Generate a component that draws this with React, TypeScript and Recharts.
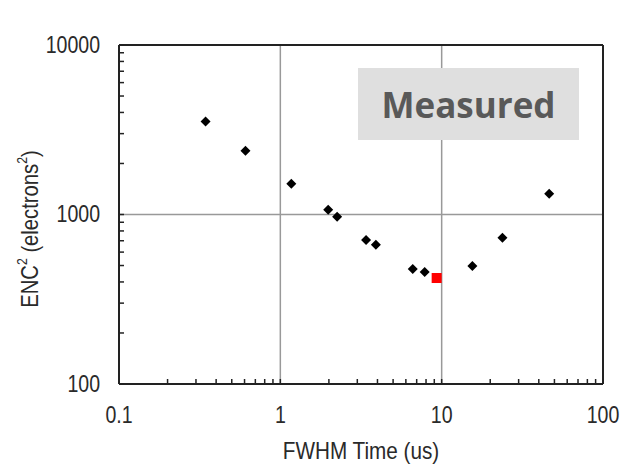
import React from 'react';
import { ScatterChart, Scatter, XAxis, YAxis, ReferenceLine, Label } from 'recharts';

// FWHM time (us) and ENC^2 (electrons^2) for the measured points
const timeUs = [0.344, 0.608, 1.17, 1.98, 2.25, 3.4, 3.91, 6.62, 7.85, 15.5, 23.8, 46.4];
const enc2 = [3540, 2380, 1520, 1066, 969, 708, 662, 477, 458, 497, 728, 1326];
// highlighted (optimum) point
const optTime = [9.31];
const optEnc2 = [422];

const xMajor = [0.1, 1, 10, 100];
const xTicks = [0.1, 0.2, 0.3, 0.4, 0.5, 0.6, 0.7, 0.8, 0.9, 1, 2, 3, 4, 5, 6, 7, 8, 9, 10, 20, 30, 40, 50, 60, 70, 80, 90, 100];
const yMajor = [100, 1000, 10000];
const yTicks = [100, 200, 300, 400, 500, 600, 700, 800, 900, 1000, 2000, 3000, 4000, 5000, 6000, 7000, 8000, 9000, 10000];

const mainData = timeUs.map((x, i) => ({ x, y: enc2[i] }));
const optData = optTime.map((x, i) => ({ x, y: optEnc2[i] }));

const TEXT = '#2a2a2a';
const FONT = '"Liberation Sans", Arial, sans-serif';
const TICK = 5;

const XTick = (props: any) => {
  const { x, y, payload } = props;
  const v = payload.value;
  if (!xMajor.includes(v)) return <g />;
  return (
    <text
      transform={`translate(${x},${y + TICK + 31}) scale(0.85,1)`}
      textAnchor="middle"
      dominantBaseline="central"
      fontSize={23}
      fontFamily={FONT}
      fill={TEXT}
    >
      {String(v)}
    </text>
  );
};

const YTick = (props: any) => {
  const { x, y, payload } = props;
  const v = payload.value;
  if (!yMajor.includes(v)) return <g />;
  return (
    <text
      transform={`translate(${x - TICK - 19},${y}) scale(0.85,1)`}
      textAnchor="end"
      dominantBaseline="central"
      fontSize={23}
      fontFamily={FONT}
      fill={TEXT}
    >
      {String(v)}
    </text>
  );
};

const Diamond = (props: any) => {
  const { cx, cy } = props;
  const r = 5;
  return <polygon points={`${cx},${cy - r} ${cx + r},${cy} ${cx},${cy + r} ${cx - r},${cy}`} fill="#000" />;
};

const RedSquare = (props: any) => {
  const { cx, cy } = props;
  return <rect x={cx - 5} y={cy - 5} width={10} height={10} fill="#ff0000" />;
};

const XTitle = (props: any) => {
  const vb = props.viewBox || { x: 119, y: 384, width: 484, height: 30 };
  return (
    <text
      transform={`translate(${vb.x + vb.width / 2},${vb.y + 67}) scale(0.9,1)`}
      textAnchor="middle"
      dominantBaseline="central"
      fontSize={23}
      fontFamily={FONT}
      fill={TEXT}
    >
      FWHM Time (us)
    </text>
  );
};

const YTitle = () => {
  return (
    <text
      transform={`translate(30,229) rotate(-90) scale(0.88,1)`}
      textAnchor="middle"
      dominantBaseline="central"
      fontSize={23}
      fontFamily={FONT}
      fill={TEXT}
    >
      ENC<tspan dy={-8} fontSize={14}>2</tspan>
      <tspan dy={8}> (electrons</tspan>
      <tspan dy={-8} fontSize={14}>2</tspan>
      <tspan dy={8}>)</tspan>
    </text>
  );
};

export default function App() {
  return (
    <div style={{ position: 'absolute', left: 0, top: 0, width: 621, height: 467, background: '#fff' }}>
      <ScatterChart width={621} height={467} margin={{ top: 45, right: 18, left: 59, bottom: 53 }}>
        <XAxis
          dataKey="x"
          type="number"
          scale="log"
          domain={[0.1, 100]}
          allowDataOverflow
          ticks={xTicks}
          interval={0}
          tickSize={-TICK}
          tickMargin={0}
          tickLine={{ stroke: '#222', strokeWidth: 1.5 }}
          tick={<XTick />}
          height={30}
          axisLine={{ stroke: '#222', strokeWidth: 2 }}
        >
          <Label content={<XTitle />} />
        </XAxis>
        <YAxis
          dataKey="y"
          type="number"
          scale="log"
          domain={[100, 10000]}
          allowDataOverflow
          ticks={yTicks}
          interval={0}
          tickSize={-TICK}
          tickMargin={0}
          tickLine={{ stroke: '#222', strokeWidth: 1.5 }}
          tick={<YTick />}
          width={60}
          axisLine={{ stroke: '#222', strokeWidth: 2 }}
        >
          <Label content={<YTitle />} />
        </YAxis>
        <ReferenceLine x={1} stroke="#999" strokeWidth={1.5} />
        <ReferenceLine x={10} stroke="#999" strokeWidth={1.5} />
        <ReferenceLine y={1000} stroke="#999" strokeWidth={1.5} />
        <ReferenceLine y={10000} stroke="#222" strokeWidth={2} />
        <ReferenceLine x={100} stroke="#222" strokeWidth={2} />
        <Scatter data={mainData} shape={<Diamond />} isAnimationActive={false} />
        <Scatter data={optData} shape={<RedSquare />} isAnimationActive={false} />
      </ScatterChart>
      <div
        style={{
          position: 'absolute',
          left: 358,
          top: 68,
          width: 221,
          height: 72,
          background: '#dfdfdf',
          display: 'flex',
          alignItems: 'center',
          justifyContent: 'center',
          fontFamily: '"Open Sans", sans-serif',
          fontWeight: 700,
          fontSize: 35,
          color: '#595959',
        }}
      >
        Measured
      </div>
    </div>
  );
}
